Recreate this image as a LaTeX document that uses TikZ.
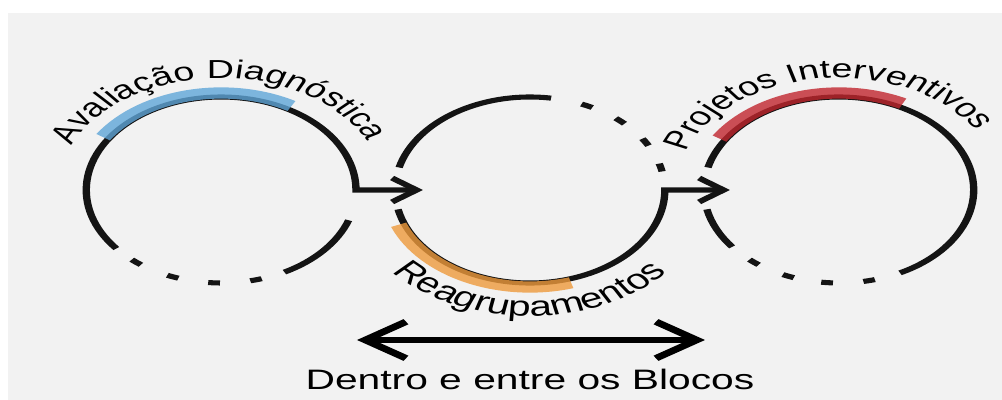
\documentclass[tikz,border=0pt]{standalone}
\usepackage{fontspec}
\newfontfamily\figfont{Liberation Sans}
\newcommand\diagfont{\figfont\fontsize{20}{24}\selectfont}
\newcommand\arcfont{\figfont\fontsize{18.5}{22}\selectfont}
\usetikzlibrary{arrows.meta,decorations.text}
\definecolor{bggray}{HTML}{F2F2F2}
\definecolor{hlblue}{HTML}{5FA6D8}
\definecolor{hlorange}{HTML}{EE9A3C}
\definecolor{hlred}{HTML}{C0262E}
\tikzset{
  ring/.style={line width=3.6, draw=black!92},
  hl/.style={line width=8, opacity=0.8},
  curvedtext/.style={decorate, decoration={text along path, text align=center, text={#1}}},
  flowarrow/.style={ring, -{Straight Barb[length=12, width=17]}},
  bigarrow/.style={line width=4.4, draw=black, {Straight Barb[length=20, width=26]}-{Straight Barb[length=20, width=26]}}
}
\begin{document}
\begin{tikzpicture}[x=0.025cm,y=0.025cm]
\useasboundingbox (0,0) rectangle (1002,-400);
\fill[white] (0,0) rectangle (1002,-400);
\fill[bggray] (8,-13) rectangle (1002,-400);
\begin{scope}[transform canvas={xscale=1.45}]
  \coordinate (c1) at (152.5,-190);
  \coordinate (c2) at (365.5,-190);
  \coordinate (c3) at (578.5,-190);
  \coordinate (t1) at (291.7,-190);
  \coordinate (t2) at (503.4,-190);
  % circle 1
  \draw[ring] (c1) ++(-62:93) arc[start angle=-62, end angle=-19, radius=93];
  \foreach \a in {231,249,267,285}
    \draw[ring] (c1) ++(\a-2.5:93) arc[start angle=\a-2.5, end angle=\a+2.5, radius=93];
  \draw[flowarrow] (c1) ++(219:93) arc[start angle=219, end angle=0, radius=93] -- (t1);
  \draw[hl, hlblue] (c1) ++(147:97) arc[start angle=147, end angle=60, radius=97];
  \path[curvedtext={|\arcfont|Avaliação Diagnóstica}] (c1) ++(171:112) arc[start angle=171, end angle=11, radius=112];
  % circle 2
  \draw[ring] (c2) ++(81:93) arc[start angle=81, end angle=166, radius=93];
  \foreach \a in {65,48,31,14}
    \draw[ring] (c2) ++(\a-2.5:93) arc[start angle=\a-2.5, end angle=\a+2.5, radius=93];
  \draw[flowarrow] (c2) ++(192:93) arc[start angle=192, end angle=360, radius=93] -- (t2);
  \draw[hl, hlorange] (c2) ++(201:97) arc[start angle=201, end angle=287, radius=97];
  \path[curvedtext={|\diagfont|Reagrupamentos}] (c2) ++(200:126) arc[start angle=200, end angle=340, radius=126];
  % circle 3
  \draw[ring] (c3) ++(166:93) arc[start angle=166, end angle=-63, radius=93];
  \draw[ring] (c3) ++(192:93) arc[start angle=192, end angle=217.7, radius=93];
  \foreach \a in {231,248,265,283}
    \draw[ring] (c3) ++(\a-2.5:93) arc[start angle=\a-2.5, end angle=\a+2.5, radius=93];
  \draw[hl, hlred] (c3) ++(148:97) arc[start angle=148, end angle=63, radius=97];
  \path[curvedtext={|\arcfont|Projetos Interventivos}] (c3) ++(176:112) arc[start angle=176, end angle=16, radius=112];
  % bottom
  \coordinate (dl) at (246.2,-340);
  \coordinate (dr) at (486.2,-340);
  \draw[bigarrow] (dl) -- (dr);
  \node[anchor=base, font=\diagfont, inner sep=0] (lbl) at (365.5,-389) {Dentro e entre os Blocos};
\end{scope}
\end{tikzpicture}
\end{document}
